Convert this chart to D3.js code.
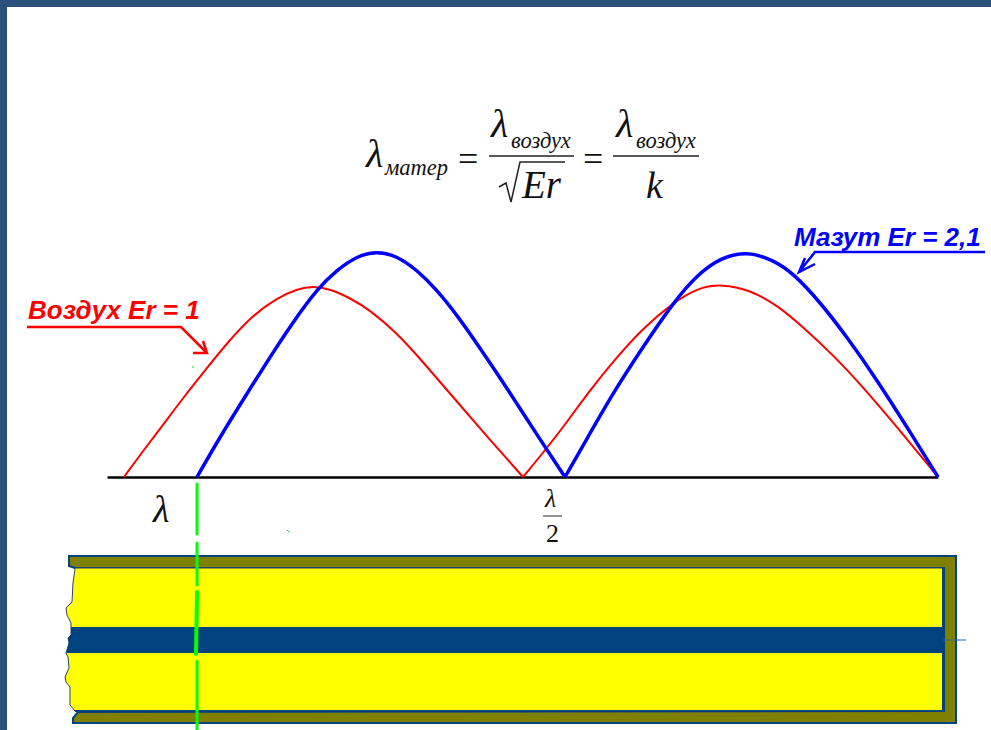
<!DOCTYPE html>
<html>
<head>
<meta charset="utf-8">
<script src="https://d3js.org/d3.v7.min.js"></script>
<style>
  html, body { margin: 0; padding: 0; background: #fff; overflow: hidden; }
  svg { display: block; }
  .math { font-family: "Liberation Serif", serif; fill: #111; }
  .label { font-family: "Liberation Sans", sans-serif; font-weight: bold; font-style: italic; }
</style>
</head>
<body>
<div id="chart"></div>
<script>
// wave values (length along the line, amplitude)
var airLength1 = [17, 36, 56, 76, 100, 120, 146, 170, 190, 206, 223, 243, 263, 290, 316, 346, 376, 416];
var airValue1 = [0, 26, 52, 79, 109, 134, 162, 179, 188, 191, 188, 179, 167, 144, 115, 80, 45, 0];
var airLength2 = [416, 440, 460, 483, 510, 536, 566, 590, 615, 643, 670, 696, 726, 756, 790, 831];
var airValue2 = [0, 29, 55, 87, 120, 149, 174, 189, 193, 187, 172, 150, 122, 90, 50, 0];
var oilLength1 = [90, 113, 136, 163, 186, 211, 230, 250, 270, 290, 310, 330, 350, 373, 400, 430, 458];
var oilValue1 = [0, 40, 77, 120, 155, 189, 207, 221, 226, 221, 207, 187, 162, 129, 89, 42, 0];
var oilLength2 = [458, 481, 506, 536, 566, 590, 613, 640, 666, 686, 713, 740, 770, 800, 831];
var oilValue2 = [0, 40, 84, 130, 174, 202, 219, 226, 217, 204, 175, 140, 97, 50, 0];

var airLabel = "Воздух Er = 1";
var oilLabel = "Мазут Er = 2,1";

var width = 991, height = 730;

var svg = d3
  .select("#chart")
  .append("svg")
  .attr("width", width)
  .attr("height", height);

// page frame
svg.append("rect").attr("width", width).attr("height", 7).attr("fill", "#2a5179");
svg.append("rect").attr("width", 7).attr("height", height).attr("fill", "#2a5179");

var x = d3.scaleLinear().domain([0, 831]).range([107, 938]);
var y = d3.scaleLinear().domain([0, 225]).range([477, 252]);

// formula
function mathText(px, py, size, str, italic) {
  return svg
    .append("text")
    .attr("class", "math")
    .attr("x", px)
    .attr("y", py)
    .attr("font-size", size)
    .attr("font-style", italic ? "italic" : "normal")
    .text(str);
}
function rule(x1, x2, yy, w) {
  svg
    .append("line")
    .attr("x1", x1)
    .attr("x2", x2)
    .attr("y1", yy)
    .attr("y2", yy)
    .attr("stroke", "#222")
    .attr("stroke-width", w);
}
mathText(366, 167, 40, "λ", true);
mathText(385, 175, 22.5, "матер", true);
mathText(458, 171, 36, "=");
mathText(491, 137, 40, "λ", true);
mathText(511, 148, 22.5, "воздух", true);
rule(489, 574, 156, 1.5);
svg
  .append("path")
  .attr("d", "M499,187L506,183L511,202L520,162L565,162")
  .attr("fill", "none")
  .attr("stroke", "#222")
  .attr("stroke-width", 1.5);
mathText(522, 198, 39, "Er", true);
mathText(583, 171, 36, "=");
mathText(616, 137, 40, "λ", true);
mathText(636, 148, 22.5, "воздух", true);
rule(613, 699, 156, 1.5);
mathText(646, 198, 38, "k", true);

// cable section
var navy = "#00437f";
svg
  .append("path")
  .attr("d", "M69,556H956V723H73L73,718L78,712L944,711V568H75L69,566Z")
  .attr("fill", "#808000")
  .attr("stroke", navy)
  .attr("stroke-width", 2);
svg
  .append("path")
  .attr(
    "d",
    "M75,569L73,583L72,602L66,608L67,615L71,623L71,635L68,638L69,643L66,653L68,657L69,668L65,677L66,682L70,687L70,705L75,711H943V568H75Z"
  )
  .attr("fill", "#ffff00")
  .attr("stroke", "#30406a")
  .attr("stroke-width", 1);
svg
  .append("path")
  .attr("d", "M71,627H943V653H66L69,643L68,638L71,635Z")
  .attr("fill", navy);
svg
  .append("path")
  .attr("d", "M943,568V711H75")
  .attr("fill", "none")
  .attr("stroke", navy)
  .attr("stroke-width", 2);
svg
  .append("line")
  .attr("x1", 943)
  .attr("x2", 966)
  .attr("y1", 640)
  .attr("y2", 640)
  .attr("stroke", "#2a62a0")
  .attr("stroke-width", 1);

// green marker
[
  [484, 534],
  [543, 585],
  [592, 654],
  [661, 730],
].forEach(function (s, i) {
  svg
    .append("line")
    .attr("x1", 197)
    .attr("x2", i == 2 ? 196 : 197)
    .attr("y1", s[0])
    .attr("y2", s[1])
    .attr("stroke", "#00ff00")
    .attr("stroke-width", i == 2 ? 4 : 3)
    .attr("stroke-linecap", "round");
});
// stray specks in the drawing
svg.append("path").attr("d", "M287,530L289,532M192,367H194").attr("stroke", "#00dd00").attr("stroke-width", 1);

// axis line
var axis = d3.axisBottom(x).tickValues([]).tickSizeOuter(0);
var axisG = svg.append("g").attr("transform", "translate(0," + y(0) + ")").call(axis);
axisG.select(".domain").attr("stroke", "#000").attr("stroke-width", 2.5);

// waves
var line = d3
  .line()
  .x(function (d) {
    return x(d[0]);
  })
  .y(function (d) {
    return y(d[1]);
  })
  .curve(d3.curveBasis);

function drawWave(lengths, values, color, w) {
  svg
    .append("path")
    .datum(d3.zip(lengths, values))
    .attr("fill", "none")
    .attr("stroke", color)
    .attr("stroke-width", w)
    .attr("d", line);
}
drawWave(airLength1, airValue1, "#ff0000", 2);
drawWave(airLength2, airValue2, "#ff0000", 2);
drawWave(oilLength1, oilValue1, "#0000ff", 3.5);
drawWave(oilLength2, oilValue2, "#0000ff", 3.5);

// axis labels
mathText(153, 522, 38, "λ", true);
mathText(545, 507, 26, "λ", true);
rule(543, 562, 516, 1);
mathText(546, 542, 26, "2");

// series labels with arrows
function callout(str, tx, ty, size, color, d) {
  svg
    .append("text")
    .attr("class", "label")
    .attr("x", tx)
    .attr("y", ty)
    .attr("font-size", size)
    .attr("fill", color)
    .text(str);
  svg
    .append("path")
    .attr("d", d)
    .attr("fill", "none")
    .attr("stroke", color)
    .attr("stroke-width", 2.5);
}
callout(airLabel, 28, 319, 26, "#ff0000", "M27,327H181L207,353M203,341L207,353L193,353");
callout(oilLabel, 794, 246, 26, "#0000ff", "M985,252H815L799,272M805,258L799,272L815,264");
</script>
</body>
</html>
